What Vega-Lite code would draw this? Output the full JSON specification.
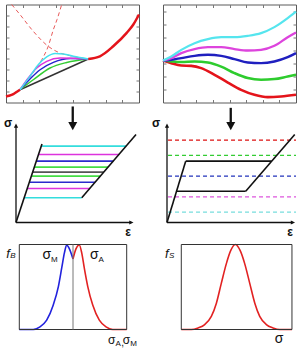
{
  "$schema": "https://vega.github.io/schema/vega-lite/v6.json",
  "background": "white",
  "padding": {"left": 0, "top": 1.5, "right": 0, "bottom": 0},
  "columns": 2,
  "bounds": "flush",
  "spacing": {"row": 22, "column": 24},
  "resolve": {"scale": {"color": "independent", "strokeWidth": "independent"}},
  "config": {
    "view": {"stroke": null},
    "font": "Liberation Sans",
    "axis": {"grid": false}
  },
  "datasets": {
    "one": [{}],
    "tl_dash": [
      {"c": "A", "x": 0.34, "y": 9.0}, {"c": "A", "x": 0.84, "y": 8.08}, {"c": "A", "x": 1.64, "y": 6.54},
      {"c": "A", "x": 2.54, "y": 5.16}, {"c": "A", "x": 3.15, "y": 4.61}, {"c": "A", "x": 3.85, "y": 4.3},
      {"c": "A", "x": 4.65, "y": 4.05}, {"c": "A", "x": 4.95, "y": 4.0},
      {"c": "B", "x": 0.84, "y": 1.17}, {"c": "B", "x": 1.14, "y": 1.81}, {"c": "B", "x": 1.62, "y": 2.74},
      {"c": "B", "x": 2.15, "y": 3.93}, {"c": "B", "x": 2.54, "y": 5.16}, {"c": "B", "x": 2.85, "y": 6.7},
      {"c": "B", "x": 3.07, "y": 7.62}, {"c": "B", "x": 3.35, "y": 9.0}
    ],
    "tl_fan": [
      {"c": "black", "x": 0.84, "y": 1.17}, {"c": "black", "x": 4.95, "y": 4.0},
      {"c": "green", "x": 0.84, "y": 1.17}, {"c": "green", "x": 1.64, "y": 2.09}, {"c": "green", "x": 2.65, "y": 3.17},
      {"c": "green", "x": 3.65, "y": 3.68}, {"c": "green", "x": 4.95, "y": 4.0},
      {"c": "blue", "x": 0.84, "y": 1.17}, {"c": "blue", "x": 1.44, "y": 2.16}, {"c": "blue", "x": 2.05, "y": 3.01},
      {"c": "blue", "x": 2.85, "y": 3.68}, {"c": "blue", "x": 3.85, "y": 4.03}, {"c": "blue", "x": 4.95, "y": 4.0},
      {"c": "magenta", "x": 0.84, "y": 1.17}, {"c": "magenta", "x": 1.34, "y": 2.25}, {"c": "magenta", "x": 1.85, "y": 3.17},
      {"c": "magenta", "x": 2.45, "y": 3.78}, {"c": "magenta", "x": 3.25, "y": 4.09}, {"c": "magenta", "x": 4.25, "y": 4.05},
      {"c": "magenta", "x": 4.95, "y": 4.0},
      {"c": "cyan", "x": 0.84, "y": 1.17}, {"c": "cyan", "x": 1.44, "y": 2.4}, {"c": "cyan", "x": 1.94, "y": 3.47},
      {"c": "cyan", "x": 2.45, "y": 4.18}, {"c": "cyan", "x": 2.95, "y": 4.49}, {"c": "cyan", "x": 3.45, "y": 4.46},
      {"c": "cyan", "x": 4.05, "y": 4.24}, {"c": "cyan", "x": 4.95, "y": 4.0}
    ],
    "tl_red": [
      {"c": "L", "x": 0.0, "y": 0.55}, {"c": "L", "x": 0.18, "y": 0.62}, {"c": "L", "x": 0.44, "y": 0.77},
      {"c": "L", "x": 0.66, "y": 0.99}, {"c": "L", "x": 0.84, "y": 1.17},
      {"c": "R", "x": 4.95, "y": 4.0}, {"c": "R", "x": 5.65, "y": 4.24}, {"c": "R", "x": 6.45, "y": 5.16},
      {"c": "R", "x": 7.26, "y": 6.39}, {"c": "R", "x": 7.66, "y": 7.16}, {"c": "R", "x": 8.0, "y": 8.08}
    ],
    "tr": [
      {"c": "red", "x": 0, "y": 3.21}, {"c": "red", "x": 0.5, "y": 3.01}, {"c": "red", "x": 1.1, "y": 2.83},
      {"c": "red", "x": 1.7, "y": 2.8}, {"c": "red", "x": 2.3, "y": 2.63}, {"c": "red", "x": 3.1, "y": 2.12},
      {"c": "red", "x": 3.9, "y": 1.53}, {"c": "red", "x": 4.7, "y": 0.97}, {"c": "red", "x": 5.5, "y": 0.59},
      {"c": "red", "x": 6.3, "y": 0.41}, {"c": "red", "x": 7.1, "y": 0.46}, {"c": "red", "x": 8.0, "y": 0.59},
      {"c": "green", "x": 0, "y": 3.21}, {"c": "green", "x": 0.5, "y": 3.14}, {"c": "green", "x": 1.1, "y": 3.09},
      {"c": "green", "x": 1.9, "y": 3.14}, {"c": "green", "x": 2.7, "y": 3.06}, {"c": "green", "x": 3.5, "y": 2.75},
      {"c": "green", "x": 4.3, "y": 2.25}, {"c": "green", "x": 5.1, "y": 1.87}, {"c": "green", "x": 5.9, "y": 1.74},
      {"c": "green", "x": 6.7, "y": 1.79}, {"c": "green", "x": 7.5, "y": 1.99}, {"c": "green", "x": 8.0, "y": 2.12},
      {"c": "blue", "x": 0, "y": 3.21}, {"c": "blue", "x": 0.5, "y": 3.27}, {"c": "blue", "x": 1.1, "y": 3.4},
      {"c": "blue", "x": 1.9, "y": 3.57}, {"c": "blue", "x": 2.7, "y": 3.65}, {"c": "blue", "x": 3.5, "y": 3.57},
      {"c": "blue", "x": 4.3, "y": 3.32}, {"c": "blue", "x": 5.1, "y": 3.06}, {"c": "blue", "x": 5.9, "y": 3.01},
      {"c": "blue", "x": 6.7, "y": 3.14}, {"c": "blue", "x": 7.5, "y": 3.47}, {"c": "blue", "x": 8.0, "y": 3.78},
      {"c": "magenta", "x": 0, "y": 3.21}, {"c": "magenta", "x": 0.5, "y": 3.4}, {"c": "magenta", "x": 1.1, "y": 3.78},
      {"c": "magenta", "x": 1.9, "y": 4.09}, {"c": "magenta", "x": 2.7, "y": 4.24}, {"c": "magenta", "x": 3.5, "y": 4.24},
      {"c": "magenta", "x": 4.3, "y": 4.09}, {"c": "magenta", "x": 5.1, "y": 3.98}, {"c": "magenta", "x": 5.9, "y": 4.03},
      {"c": "magenta", "x": 6.7, "y": 4.34}, {"c": "magenta", "x": 7.5, "y": 5.0}, {"c": "magenta", "x": 8.0, "y": 5.36},
      {"c": "cyan", "x": 0, "y": 3.21}, {"c": "cyan", "x": 0.5, "y": 3.52}, {"c": "cyan", "x": 1.1, "y": 4.03},
      {"c": "cyan", "x": 1.9, "y": 4.54}, {"c": "cyan", "x": 2.7, "y": 4.85}, {"c": "cyan", "x": 3.5, "y": 5.0},
      {"c": "cyan", "x": 4.3, "y": 5.0}, {"c": "cyan", "x": 5.1, "y": 5.1}, {"c": "cyan", "x": 5.9, "y": 5.31},
      {"c": "cyan", "x": 6.7, "y": 5.77}, {"c": "cyan", "x": 7.5, "y": 6.46}, {"c": "cyan", "x": 8.0, "y": 6.96}
    ],
    "ml_edges": [
      {"x": 0, "y": 0, "x2": 0.222, "y2": 0.8},
      {"x": 0.562, "y": 0.252, "x2": 1.026, "y2": 0.898}
    ],
    "ml_levels": [
      {"c": "cyan", "y": 0.779, "x": 0.215, "x2": 0.94},
      {"c": "magenta", "y": 0.694, "x": 0.192, "x2": 0.879},
      {"c": "blue", "y": 0.626, "x": 0.173, "x2": 0.831},
      {"c": "green", "y": 0.565, "x": 0.156, "x2": 0.787},
      {"c": "black", "y": 0.514, "x": 0.142, "x2": 0.75},
      {"c": "green", "y": 0.473, "x": 0.131, "x2": 0.721},
      {"c": "blue", "y": 0.411, "x": 0.114, "x2": 0.676},
      {"c": "magenta", "y": 0.347, "x": 0.096, "x2": 0.63},
      {"c": "cyan", "y": 0.252, "x": 0.07, "x2": 0.562}
    ],
    "mr_edges": [
      {"x": 0, "y": 0, "x2": 0.146, "y2": 0.626},
      {"x": 0.146, "y": 0.626, "x2": 0.818, "y2": 0.626},
      {"x": 0.0744, "y": 0.319, "x2": 0.615, "y2": 0.319},
      {"x": 0.615, "y": 0.319, "x2": 0.998, "y2": 0.898}
    ],
    "mr_levels": [
      {"c": "red", "y": 0.84},
      {"c": "green", "y": 0.684},
      {"c": "blue", "y": 0.473},
      {"c": "magenta", "y": 0.262},
      {"c": "cyan", "y": 0.105}
    ],
    "bl": [
      {"c": "M", "x": 0, "y": 0}, {"c": "M", "x": 1.04, "y": 0}, {"c": "M", "x": 1.54, "y": 0.31},
      {"c": "M", "x": 2.04, "y": 1.1}, {"c": "M", "x": 2.53, "y": 2.88}, {"c": "M", "x": 2.91, "y": 5.05},
      {"c": "M", "x": 3.16, "y": 7.24}, {"c": "M", "x": 3.36, "y": 9.01}, {"c": "M", "x": 3.53, "y": 9.95},
      {"c": "M", "x": 3.73, "y": 9.49}, {"c": "M", "x": 4.0, "y": 8.3},
      {"c": "A", "x": 4.0, "y": 8.3}, {"c": "A", "x": 4.22, "y": 9.49}, {"c": "A", "x": 4.47, "y": 9.95},
      {"c": "A", "x": 4.65, "y": 9.01}, {"c": "A", "x": 4.84, "y": 7.24}, {"c": "A", "x": 5.1, "y": 5.05},
      {"c": "A", "x": 5.47, "y": 2.88}, {"c": "A", "x": 5.96, "y": 1.1}, {"c": "A", "x": 6.46, "y": 0.31},
      {"c": "A", "x": 6.96, "y": 0}, {"c": "A", "x": 8.0, "y": 0}
    ],
    "br": [
      {"x": 0, "y": 0}, {"x": 0.63, "y": 0}, {"x": 1.06, "y": 0.19}, {"x": 1.48, "y": 0.58},
      {"x": 1.9, "y": 1.55}, {"x": 2.22, "y": 3.1}, {"x": 2.53, "y": 5.43}, {"x": 2.85, "y": 7.75},
      {"x": 3.13, "y": 9.3}, {"x": 3.42, "y": 10.0}, {"x": 3.72, "y": 9.3}, {"x": 4.01, "y": 7.75},
      {"x": 4.33, "y": 5.43}, {"x": 4.65, "y": 3.1}, {"x": 4.96, "y": 1.55}, {"x": 5.38, "y": 0.58},
      {"x": 5.8, "y": 0.19}, {"x": 6.23, "y": 0}, {"x": 7.0, "y": 0}
    ]
  },
  "concat": [
    {
      "width": 133,
      "height": 98,
      "view": {"stroke": "#5a5a5a", "strokeWidth": 1},
      "resolve": {"axis": {"x": "independent", "y": "independent"}},
      "layer": [
        {
          "data": {"name": "tl_dash"},
          "mark": {"type": "line", "interpolate": "monotone", "strokeDash": [4, 3], "strokeWidth": 1, "color": "#e85a5a"},
          "encoding": {
            "x": {"field": "x", "type": "quantitative", "scale": {"domain": [0, 8], "nice": false, "zero": false},
                  "axis": {"orient": "bottom", "values": [1, 2, 3, 4, 5, 6, 7], "domain": false, "labels": false, "tickSize": -3, "tickColor": "#777", "title": null}},
            "y": {"field": "y", "type": "quantitative", "scale": {"domain": [0, 9], "nice": false, "zero": false},
                  "axis": {"orient": "left", "values": [1, 2, 3, 4, 5, 6, 7, 8], "domain": false, "labels": false, "tickSize": -3, "tickColor": "#777", "title": null}},
            "detail": {"field": "c"}
          }
        },
        {
          "data": {"name": "tl_fan"},
          "mark": {"type": "line", "interpolate": "monotone", "strokeWidth": 1.5},
          "encoding": {
            "x": {"field": "x", "type": "quantitative", "scale": {"domain": [0, 8], "nice": false, "zero": false},
                  "axis": {"orient": "top", "values": [1, 2, 3, 4, 5, 6, 7], "domain": false, "labels": false, "tickSize": -3, "tickColor": "#777", "title": null}},
            "y": {"field": "y", "type": "quantitative", "scale": {"domain": [0, 9], "nice": false, "zero": false},
                  "axis": {"orient": "right", "values": [1, 2, 3, 4, 5, 6, 7, 8], "domain": false, "labels": false, "tickSize": -3, "tickColor": "#777", "title": null}},
            "color": {"field": "c", "type": "nominal", "legend": null,
                      "scale": {"domain": ["black", "green", "blue", "magenta", "cyan"], "range": ["#333333", "#33cc33", "#2222cc", "#dd33dd", "#44e0ee"]}}
          }
        },
        {
          "data": {"name": "tl_red"},
          "mark": {"type": "line", "interpolate": "monotone", "strokeWidth": 2.5, "color": "#e4141b"},
          "encoding": {
            "x": {"field": "x", "type": "quantitative", "scale": {"domain": [0, 8], "nice": false, "zero": false}, "axis": null},
            "y": {"field": "y", "type": "quantitative", "scale": {"domain": [0, 9], "nice": false, "zero": false}, "axis": null},
            "detail": {"field": "c"}
          }
        }
      ]
    },
    {
      "width": 133,
      "height": 98,
      "view": {"stroke": "#5a5a5a", "strokeWidth": 1},
      "resolve": {"axis": {"x": "independent", "y": "independent"}},
      "layer": [
        {
          "data": {"name": "tr"},
          "mark": {"type": "line", "interpolate": "monotone"},
          "encoding": {
            "x": {"field": "x", "type": "quantitative", "scale": {"domain": [0, 8], "nice": false, "zero": false},
                  "axis": {"orient": "bottom", "values": [1, 2, 3, 4, 5, 6, 7], "domain": false, "labels": false, "tickSize": -3, "tickColor": "#777", "title": null}},
            "y": {"field": "y", "type": "quantitative", "scale": {"domain": [0, 7.5], "nice": false, "zero": false},
                  "axis": {"orient": "left", "values": [1, 2, 3, 4, 5, 6, 7], "domain": false, "labels": false, "tickSize": -3, "tickColor": "#777", "title": null}},
            "color": {"field": "c", "type": "nominal", "legend": null,
                      "scale": {"domain": ["red", "green", "blue", "magenta", "cyan"], "range": ["#e4141b", "#2ecc2e", "#1f1fbf", "#dd44dd", "#55e5ee"]}},
            "strokeWidth": {"field": "c", "type": "nominal", "legend": null,
                            "scale": {"domain": ["red", "green", "blue", "magenta", "cyan"], "range": [2.6, 2.2, 2, 1.5, 1.1]}}
          }
        },
        {
          "data": {"name": "one"},
          "mark": {"type": "point", "opacity": 0},
          "encoding": {
            "x": {"datum": 0, "type": "quantitative", "scale": {"domain": [0, 8], "nice": false, "zero": false},
                  "axis": {"orient": "top", "values": [1, 2, 3, 4, 5, 6, 7], "domain": false, "labels": false, "tickSize": -3, "tickColor": "#777", "title": null}},
            "y": {"datum": 0, "type": "quantitative", "scale": {"domain": [0, 7.5], "nice": false, "zero": false},
                  "axis": {"orient": "right", "values": [1, 2, 3, 4, 5, 6, 7], "domain": false, "labels": false, "tickSize": -3, "tickColor": "#777", "title": null}}
          }
        }
      ]
    },
    {
      "width": 133,
      "height": 98,
      "layer": [
        {
          "data": {"name": "ml_levels"},
          "mark": {"type": "rule", "strokeWidth": 1.6},
          "encoding": {
            "x": {"field": "x", "type": "quantitative", "scale": {"domain": [-0.08547, 1.05128], "nice": false, "zero": false}, "axis": null},
            "x2": {"field": "x2"},
            "y": {"field": "y", "type": "quantitative", "scale": {"domain": [0, 1], "nice": false, "zero": false}, "axis": null},
            "color": {"field": "c", "type": "nominal", "legend": null,
                      "scale": {"domain": ["black", "green", "blue", "magenta", "cyan"], "range": ["#555555", "#44dd44", "#2a2acc", "#dd33dd", "#33dddd"]}}
          }
        },
        {
          "data": {"name": "ml_edges"},
          "mark": {"type": "rule", "strokeWidth": 1.6, "color": "#111"},
          "encoding": {
            "x": {"field": "x", "type": "quantitative", "scale": {"domain": [-0.08547, 1.05128], "nice": false, "zero": false}, "axis": null},
            "x2": {"field": "x2"},
            "y": {"field": "y", "type": "quantitative", "scale": {"domain": [0, 1], "nice": false, "zero": false}, "axis": null},
            "y2": {"field": "y2"}
          }
        },
        {
          "data": {"name": "one"},
          "mark": {"type": "rule", "strokeWidth": 1.3, "color": "#111"},
          "encoding": {
            "x": {"datum": 0, "type": "quantitative", "scale": {"domain": [-0.08547, 1.05128], "nice": false, "zero": false}, "axis": null},
            "x2": {"datum": 0.985},
            "y": {"datum": 0, "type": "quantitative", "scale": {"domain": [0, 1], "nice": false, "zero": false}, "axis": null}
          }
        },
        {
          "data": {"name": "one"},
          "mark": {"type": "rule", "strokeWidth": 1.3, "color": "#111"},
          "encoding": {
            "x": {"datum": 0, "type": "quantitative", "scale": {"domain": [-0.08547, 1.05128], "nice": false, "zero": false}, "axis": null},
            "y": {"datum": 0, "type": "quantitative", "scale": {"domain": [0, 1], "nice": false, "zero": false}, "axis": null},
            "y2": {"datum": 0.985}
          }
        },
        {
          "data": {"name": "one"},
          "mark": {"type": "point", "shape": "M-1,1L0,-1L1,1Z", "size": 18, "filled": true, "opacity": 1, "color": "#111", "strokeWidth": 0},
          "encoding": {
            "x": {"datum": 0, "type": "quantitative", "scale": {"domain": [-0.08547, 1.05128], "nice": false, "zero": false}, "axis": null},
            "y": {"datum": 0.989, "type": "quantitative", "scale": {"domain": [0, 1], "nice": false, "zero": false}, "axis": null}
          }
        },
        {
          "data": {"name": "one"},
          "mark": {"type": "point", "shape": "M-1,-1L1,0L-1,1Z", "size": 18, "filled": true, "opacity": 1, "color": "#111", "strokeWidth": 0},
          "encoding": {
            "x": {"datum": 0.986, "type": "quantitative", "scale": {"domain": [-0.08547, 1.05128], "nice": false, "zero": false}, "axis": null},
            "y": {"datum": 0, "type": "quantitative", "scale": {"domain": [0, 1], "nice": false, "zero": false}, "axis": null}
          }
        },
        {
          "data": {"name": "one"},
          "mark": {"type": "rule", "strokeWidth": 2.3, "color": "#111"},
          "encoding": {
            "x": {"datum": 0.485, "type": "quantitative", "scale": {"domain": [-0.08547, 1.05128], "nice": false, "zero": false}, "axis": null},
            "y": {"datum": 1.184, "type": "quantitative", "scale": {"domain": [0, 1], "nice": false, "zero": false}, "axis": null},
            "y2": {"datum": 1.02}
          }
        },
        {
          "data": {"name": "one"},
          "mark": {"type": "point", "shape": "M-1,-0.9L1,-0.9L0,0.9Z", "size": 81, "filled": true, "opacity": 1, "color": "#111", "strokeWidth": 0},
          "encoding": {
            "x": {"datum": 0.485, "type": "quantitative", "scale": {"domain": [-0.08547, 1.05128], "nice": false, "zero": false}, "axis": null},
            "y": {"datum": 0.983, "type": "quantitative", "scale": {"domain": [0, 1], "nice": false, "zero": false}, "axis": null}
          }
        },
        {
          "data": {"name": "one"},
          "mark": {"type": "text", "text": "σ", "fontSize": 12, "fontWeight": "bold", "align": "center", "baseline": "alphabetic", "color": "#111"},
          "encoding": {
            "x": {"datum": -0.068, "type": "quantitative", "scale": {"domain": [-0.08547, 1.05128], "nice": false, "zero": false}, "axis": null},
            "y": {"datum": 0.97, "type": "quantitative", "scale": {"domain": [0, 1], "nice": false, "zero": false}, "axis": null}
          }
        },
        {
          "data": {"name": "one"},
          "mark": {"type": "text", "text": "ε", "fontSize": 12, "fontWeight": "bold", "align": "center", "baseline": "alphabetic", "color": "#111"},
          "encoding": {
            "x": {"datum": 0.957, "type": "quantitative", "scale": {"domain": [-0.08547, 1.05128], "nice": false, "zero": false}, "axis": null},
            "y": {"datum": -0.133, "type": "quantitative", "scale": {"domain": [0, 1], "nice": false, "zero": false}, "axis": null}
          }
        }
      ]
    },
    {
      "width": 133,
      "height": 98,
      "layer": [
        {
          "data": {"name": "mr_levels"},
          "mark": {"type": "rule", "strokeWidth": 1.3, "strokeDash": [4, 3]},
          "encoding": {
            "x": {"datum": 0.008, "type": "quantitative", "scale": {"domain": [-0.03125, 1.0078], "nice": false, "zero": false}, "axis": null},
            "x2": {"datum": 1.0078},
            "y": {"field": "y", "type": "quantitative", "scale": {"domain": [0, 1], "nice": false, "zero": false}, "axis": null},
            "color": {"field": "c", "type": "nominal", "legend": null,
                      "scale": {"domain": ["red", "green", "blue", "magenta", "cyan"], "range": ["#dd1111", "#33cc33", "#2233bb", "#dd55dd", "#77dddd"]}}
          }
        },
        {
          "data": {"name": "mr_edges"},
          "mark": {"type": "rule", "strokeWidth": 1.6, "color": "#111"},
          "encoding": {
            "x": {"field": "x", "type": "quantitative", "scale": {"domain": [-0.03125, 1.0078], "nice": false, "zero": false}, "axis": null},
            "x2": {"field": "x2"},
            "y": {"field": "y", "type": "quantitative", "scale": {"domain": [0, 1], "nice": false, "zero": false}, "axis": null},
            "y2": {"field": "y2"}
          }
        },
        {
          "data": {"name": "one"},
          "mark": {"type": "rule", "strokeWidth": 1.3, "color": "#111"},
          "encoding": {
            "x": {"datum": 0, "type": "quantitative", "scale": {"domain": [-0.03125, 1.0078], "nice": false, "zero": false}, "axis": null},
            "x2": {"datum": 0.984},
            "y": {"datum": 0, "type": "quantitative", "scale": {"domain": [0, 1], "nice": false, "zero": false}, "axis": null}
          }
        },
        {
          "data": {"name": "one"},
          "mark": {"type": "rule", "strokeWidth": 1.3, "color": "#111"},
          "encoding": {
            "x": {"datum": 0, "type": "quantitative", "scale": {"domain": [-0.03125, 1.0078], "nice": false, "zero": false}, "axis": null},
            "y": {"datum": 0, "type": "quantitative", "scale": {"domain": [0, 1], "nice": false, "zero": false}, "axis": null},
            "y2": {"datum": 0.985}
          }
        },
        {
          "data": {"name": "one"},
          "mark": {"type": "point", "shape": "M-1,1L0,-1L1,1Z", "size": 18, "filled": true, "opacity": 1, "color": "#111", "strokeWidth": 0},
          "encoding": {
            "x": {"datum": 0, "type": "quantitative", "scale": {"domain": [-0.03125, 1.0078], "nice": false, "zero": false}, "axis": null},
            "y": {"datum": 0.989, "type": "quantitative", "scale": {"domain": [0, 1], "nice": false, "zero": false}, "axis": null}
          }
        },
        {
          "data": {"name": "one"},
          "mark": {"type": "point", "shape": "M-1,-1L1,0L-1,1Z", "size": 18, "filled": true, "opacity": 1, "color": "#111", "strokeWidth": 0},
          "encoding": {
            "x": {"datum": 0.984, "type": "quantitative", "scale": {"domain": [-0.03125, 1.0078], "nice": false, "zero": false}, "axis": null},
            "y": {"datum": 0, "type": "quantitative", "scale": {"domain": [0, 1], "nice": false, "zero": false}, "axis": null}
          }
        },
        {
          "data": {"name": "one"},
          "mark": {"type": "rule", "strokeWidth": 2.3, "color": "#111"},
          "encoding": {
            "x": {"datum": 0.498, "type": "quantitative", "scale": {"domain": [-0.03125, 1.0078], "nice": false, "zero": false}, "axis": null},
            "y": {"datum": 1.17, "type": "quantitative", "scale": {"domain": [0, 1], "nice": false, "zero": false}, "axis": null},
            "y2": {"datum": 1.02}
          }
        },
        {
          "data": {"name": "one"},
          "mark": {"type": "point", "shape": "M-1,-0.9L1,-0.9L0,0.9Z", "size": 81, "filled": true, "opacity": 1, "color": "#111", "strokeWidth": 0},
          "encoding": {
            "x": {"datum": 0.498, "type": "quantitative", "scale": {"domain": [-0.03125, 1.0078], "nice": false, "zero": false}, "axis": null},
            "y": {"datum": 0.983, "type": "quantitative", "scale": {"domain": [0, 1], "nice": false, "zero": false}, "axis": null}
          }
        },
        {
          "data": {"name": "one"},
          "mark": {"type": "text", "text": "σ", "fontSize": 12, "fontWeight": "bold", "align": "center", "baseline": "alphabetic", "color": "#111"},
          "encoding": {
            "x": {"datum": -0.086, "type": "quantitative", "scale": {"domain": [-0.03125, 1.0078], "nice": false, "zero": false}, "axis": null},
            "y": {"datum": 0.97, "type": "quantitative", "scale": {"domain": [0, 1], "nice": false, "zero": false}, "axis": null}
          }
        },
        {
          "data": {"name": "one"},
          "mark": {"type": "text", "text": "ε", "fontSize": 12, "fontWeight": "bold", "align": "center", "baseline": "alphabetic", "color": "#111"},
          "encoding": {
            "x": {"datum": 0.961, "type": "quantitative", "scale": {"domain": [-0.03125, 1.0078], "nice": false, "zero": false}, "axis": null},
            "y": {"datum": -0.133, "type": "quantitative", "scale": {"domain": [0, 1], "nice": false, "zero": false}, "axis": null}
          }
        }
      ]
    },
    {
      "width": 133,
      "height": 85,
      "layer": [
        {
          "data": {"name": "bl"},
          "mark": {"type": "line", "interpolate": "monotone", "strokeWidth": 1.6},
          "encoding": {
            "x": {"field": "x", "type": "quantitative", "scale": {"domain": [-0.991, 8.916], "nice": false, "zero": false},
                  "axis": {"orient": "bottom", "values": [1, 2, 3, 4, 5, 6, 7], "domain": false, "labels": false, "tickSize": -2, "tickColor": "#aaa", "title": null}},
            "y": {"field": "y", "type": "quantitative", "scale": {"domain": [0, 10], "nice": false, "zero": false},
                  "axis": {"orient": "left", "offset": -13.3, "values": [1, 2, 3, 4, 5, 6, 7, 8, 9], "domain": false, "labels": false, "tickSize": -2, "tickColor": "#aaa", "title": null}},
            "color": {"field": "c", "type": "nominal", "legend": null,
                      "scale": {"domain": ["M", "A"], "range": ["#2222dd", "#e22222"]}}
          }
        },
        {
          "data": {"name": "one"},
          "mark": {"type": "rect", "fillOpacity": 0, "stroke": "#333", "strokeWidth": 1},
          "encoding": {
            "x": {"datum": 0, "type": "quantitative", "scale": {"domain": [-0.991, 8.916], "nice": false, "zero": false}, "axis": null},
            "x2": {"datum": 8},
            "y": {"datum": 0, "type": "quantitative", "scale": {"domain": [0, 10], "nice": false, "zero": false}, "axis": null},
            "y2": {"datum": 10}
          }
        },
        {
          "data": {"name": "one"},
          "mark": {"type": "rule", "strokeWidth": 1, "color": "#777"},
          "encoding": {
            "x": {"datum": 4, "type": "quantitative", "scale": {"domain": [-0.991, 8.916], "nice": false, "zero": false}, "axis": null},
            "y": {"datum": 0, "type": "quantitative", "scale": {"domain": [0, 10], "nice": false, "zero": false}, "axis": null},
            "y2": {"datum": 10}
          }
        },
        {
          "data": {"name": "one"},
          "mark": {"type": "text", "text": "σ", "fontSize": 14, "align": "center", "baseline": "alphabetic", "color": "#111"},
          "encoding": {
            "x": {"datum": 2.04, "type": "quantitative", "scale": {"domain": [-0.991, 8.916], "nice": false, "zero": false}, "axis": null},
            "y": {"datum": 8.3, "type": "quantitative", "scale": {"domain": [0, 10], "nice": false, "zero": false}, "axis": null}
          }
        },
        {
          "data": {"name": "one"},
          "mark": {"type": "text", "text": "M", "fontSize": 8, "align": "left", "baseline": "alphabetic", "color": "#111", "dx": 4.2, "dy": 3},
          "encoding": {
            "x": {"datum": 2.04, "type": "quantitative", "scale": {"domain": [-0.991, 8.916], "nice": false, "zero": false}, "axis": null},
            "y": {"datum": 8.3, "type": "quantitative", "scale": {"domain": [0, 10], "nice": false, "zero": false}, "axis": null}
          }
        },
        {
          "data": {"name": "one"},
          "mark": {"type": "text", "text": "σ", "fontSize": 14, "align": "center", "baseline": "alphabetic", "color": "#111"},
          "encoding": {
            "x": {"datum": 5.58, "type": "quantitative", "scale": {"domain": [-0.991, 8.916], "nice": false, "zero": false}, "axis": null},
            "y": {"datum": 8.3, "type": "quantitative", "scale": {"domain": [0, 10], "nice": false, "zero": false}, "axis": null}
          }
        },
        {
          "data": {"name": "one"},
          "mark": {"type": "text", "text": "A", "fontSize": 8, "align": "left", "baseline": "alphabetic", "color": "#111", "dx": 4.2, "dy": 3},
          "encoding": {
            "x": {"datum": 5.58, "type": "quantitative", "scale": {"domain": [-0.991, 8.916], "nice": false, "zero": false}, "axis": null},
            "y": {"datum": 8.3, "type": "quantitative", "scale": {"domain": [0, 10], "nice": false, "zero": false}, "axis": null}
          }
        },
        {
          "data": {"name": "one"},
          "mark": {"type": "text", "text": "f", "fontSize": 13, "fontStyle": "italic", "align": "center", "baseline": "alphabetic", "color": "#111"},
          "encoding": {
            "x": {"datum": -0.84, "type": "quantitative", "scale": {"domain": [-0.991, 8.916], "nice": false, "zero": false}, "axis": null},
            "y": {"datum": 8.44, "type": "quantitative", "scale": {"domain": [0, 10], "nice": false, "zero": false}, "axis": null}
          }
        },
        {
          "data": {"name": "one"},
          "mark": {"type": "text", "text": "B", "fontSize": 8, "fontStyle": "italic", "align": "left", "baseline": "alphabetic", "color": "#111", "dx": 2.2, "dy": 0.5},
          "encoding": {
            "x": {"datum": -0.84, "type": "quantitative", "scale": {"domain": [-0.991, 8.916], "nice": false, "zero": false}, "axis": null},
            "y": {"datum": 8.44, "type": "quantitative", "scale": {"domain": [0, 10], "nice": false, "zero": false}, "axis": null}
          }
        },
        {
          "data": {"name": "one"},
          "mark": {"type": "text", "text": "σ", "fontSize": 12, "align": "center", "baseline": "alphabetic", "color": "#111"},
          "encoding": {
            "x": {"datum": 6.88, "type": "quantitative", "scale": {"domain": [-0.991, 8.916], "nice": false, "zero": false}, "axis": null},
            "y": {"datum": -1.76, "type": "quantitative", "scale": {"domain": [0, 10], "nice": false, "zero": false}, "axis": null}
          }
        },
        {
          "data": {"name": "one"},
          "mark": {"type": "text", "text": "A", "fontSize": 8, "align": "left", "baseline": "alphabetic", "color": "#111", "dx": 3.8, "dy": 1.7},
          "encoding": {
            "x": {"datum": 6.88, "type": "quantitative", "scale": {"domain": [-0.991, 8.916], "nice": false, "zero": false}, "axis": null},
            "y": {"datum": -1.76, "type": "quantitative", "scale": {"domain": [0, 10], "nice": false, "zero": false}, "axis": null}
          }
        },
        {
          "data": {"name": "one"},
          "mark": {"type": "text", "text": ",", "fontSize": 10, "align": "left", "baseline": "alphabetic", "color": "#111", "dx": 9.5, "dy": 1.5},
          "encoding": {
            "x": {"datum": 6.88, "type": "quantitative", "scale": {"domain": [-0.991, 8.916], "nice": false, "zero": false}, "axis": null},
            "y": {"datum": -1.76, "type": "quantitative", "scale": {"domain": [0, 10], "nice": false, "zero": false}, "axis": null}
          }
        },
        {
          "data": {"name": "one"},
          "mark": {"type": "text", "text": "σ", "fontSize": 12, "align": "center", "baseline": "alphabetic", "color": "#111"},
          "encoding": {
            "x": {"datum": 7.98, "type": "quantitative", "scale": {"domain": [-0.991, 8.916], "nice": false, "zero": false}, "axis": null},
            "y": {"datum": -1.76, "type": "quantitative", "scale": {"domain": [0, 10], "nice": false, "zero": false}, "axis": null}
          }
        },
        {
          "data": {"name": "one"},
          "mark": {"type": "text", "text": "M", "fontSize": 8, "align": "left", "baseline": "alphabetic", "color": "#111", "dx": 3.8, "dy": 1.7},
          "encoding": {
            "x": {"datum": 7.98, "type": "quantitative", "scale": {"domain": [-0.991, 8.916], "nice": false, "zero": false}, "axis": null},
            "y": {"datum": -1.76, "type": "quantitative", "scale": {"domain": [0, 10], "nice": false, "zero": false}, "axis": null}
          }
        }
      ]
    },
    {
      "width": 133,
      "height": 85,
      "layer": [
        {
          "data": {"name": "br"},
          "mark": {"type": "line", "interpolate": "monotone", "strokeWidth": 1.6, "color": "#e22222"},
          "encoding": {
            "x": {"field": "x", "type": "quantitative", "scale": {"domain": [-1.157, 7.255], "nice": false, "zero": false},
                  "axis": {"orient": "bottom", "values": [1, 2, 3, 4, 5, 6], "domain": false, "labels": false, "tickSize": -2, "tickColor": "#aaa", "title": null}},
            "y": {"field": "y", "type": "quantitative", "scale": {"domain": [0, 10], "nice": false, "zero": false},
                  "axis": {"orient": "left", "offset": -18.3, "values": [1, 2, 3, 4, 5, 6, 7, 8, 9], "domain": false, "labels": false, "tickSize": -2, "tickColor": "#aaa", "title": null}}
          }
        },
        {
          "data": {"name": "one"},
          "mark": {"type": "rect", "fillOpacity": 0, "stroke": "#333", "strokeWidth": 1},
          "encoding": {
            "x": {"datum": 0, "type": "quantitative", "scale": {"domain": [-1.157, 7.255], "nice": false, "zero": false}, "axis": null},
            "x2": {"datum": 7},
            "y": {"datum": 0, "type": "quantitative", "scale": {"domain": [0, 10], "nice": false, "zero": false}, "axis": null},
            "y2": {"datum": 10}
          }
        },
        {
          "data": {"name": "one"},
          "mark": {"type": "text", "text": "f", "fontSize": 13, "fontStyle": "italic", "align": "center", "baseline": "alphabetic", "color": "#111"},
          "encoding": {
            "x": {"datum": -0.91, "type": "quantitative", "scale": {"domain": [-1.157, 7.255], "nice": false, "zero": false}, "axis": null},
            "y": {"datum": 8.47, "type": "quantitative", "scale": {"domain": [0, 10], "nice": false, "zero": false}, "axis": null}
          }
        },
        {
          "data": {"name": "one"},
          "mark": {"type": "text", "text": "S", "fontSize": 8, "fontStyle": "italic", "align": "left", "baseline": "alphabetic", "color": "#111", "dx": 2.2, "dy": 0.5},
          "encoding": {
            "x": {"datum": -0.91, "type": "quantitative", "scale": {"domain": [-1.157, 7.255], "nice": false, "zero": false}, "axis": null},
            "y": {"datum": 8.47, "type": "quantitative", "scale": {"domain": [0, 10], "nice": false, "zero": false}, "axis": null}
          }
        },
        {
          "data": {"name": "one"},
          "mark": {"type": "text", "text": "σ", "fontSize": 14, "align": "center", "baseline": "alphabetic", "color": "#111"},
          "encoding": {
            "x": {"datum": 6.18, "type": "quantitative", "scale": {"domain": [-1.157, 7.255], "nice": false, "zero": false}, "axis": null},
            "y": {"datum": -1.53, "type": "quantitative", "scale": {"domain": [0, 10], "nice": false, "zero": false}, "axis": null}
          }
        }
      ]
    }
  ]
}
